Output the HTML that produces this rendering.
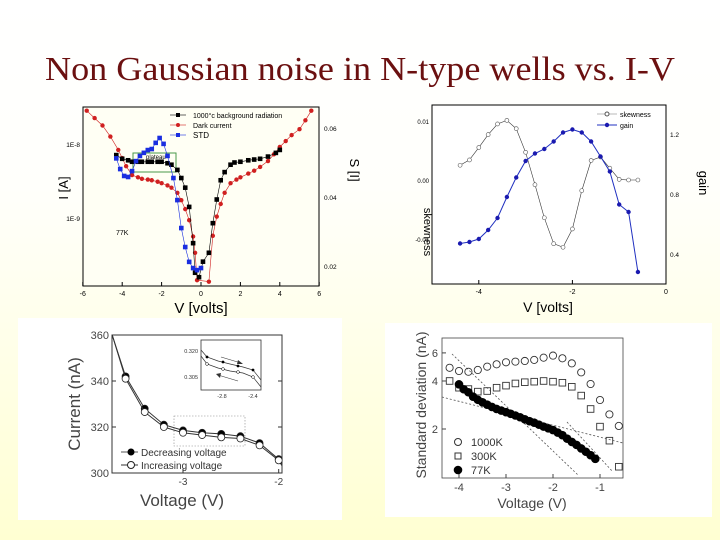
<!DOCTYPE html>
<html><head><meta charset="utf-8"><style>
html,body{margin:0;padding:0;width:720px;height:540px;overflow:hidden}
body{background:linear-gradient(#ffffff 0%,#fffffb 35%,#ffffd2 100%);font-family:"Liberation Sans",sans-serif}
svg{position:absolute;left:0;top:0}
</style></head><body>
<svg id="s" width="720" height="540" viewBox="0 0 720 540">
<text x="360" y="80" text-anchor="middle" font-family="Liberation Serif,serif" font-size="34" fill="#6b1010" textLength="630" lengthAdjust="spacingAndGlyphs">Non Gaussian noise in N-type wells vs. I-V</text>
<g id="c1"></g>
<g id="c2"></g>
<g id="c3"></g>
<g id="c4"></g>
</svg>
<script>
// ---- Chart 1 data ----
const c1RedV=[-5.8,-5.4,-5.0,-4.6,-4.2,-4.0,-3.8,-3.5,-3.2,-3.0,-2.7,-2.5,-2.2,-2.0,-1.7,-1.5,-1.2,-1.0,-0.8,-0.6,-0.4,-0.3,-0.2,0.4,0.6,0.8,1.0,1.2,1.5,1.8,2.0,2.4,2.7,3.0,3.4,3.7,4.0,4.3,4.6,5.0,5.3,5.6];
const c1RedLog=[-7.55,-7.65,-7.75,-7.90,-8.08,-8.19,-8.30,-8.42,-8.45,-8.47,-8.48,-8.49,-8.51,-8.53,-8.56,-8.59,-8.66,-8.76,-8.88,-9.03,-9.25,-9.47,-9.84,-9.86,-9.24,-8.98,-8.81,-8.66,-8.53,-8.48,-8.45,-8.40,-8.36,-8.31,-8.23,-8.14,-8.04,-7.96,-7.88,-7.80,-7.68,-7.55];
const c1BlkV=[-4.3,-4.0,-3.7,-3.5,-3.2,-3.0,-2.7,-2.5,-2.2,-2.0,-1.7,-1.5,-1.2,-1.0,-0.8,-0.6,-0.4,-0.3,-0.1,0.1,0.4,0.6,0.8,1.0,1.2,1.5,1.7,2.0,2.4,2.7,3.0,3.4,3.8,4.0];
const c1BlkLog=[-8.15,-8.20,-8.22,-8.24,-8.24,-8.24,-8.24,-8.24,-8.24,-8.24,-8.26,-8.28,-8.35,-8.46,-8.59,-8.85,-9.34,-9.74,-9.80,-9.59,-9.47,-9.07,-8.75,-8.49,-8.38,-8.28,-8.25,-8.24,-8.22,-8.21,-8.20,-8.17,-8.12,-8.08];
const c1StdV=[-4.3,-4.1,-3.9,-3.7,-3.5,-3.3,-3.1,-2.9,-2.7,-2.5,-2.3,-2.1,-1.9,-1.7,-1.4,-1.2,-1.0,-0.8,-0.6,-0.4,-0.2,0];
const c1Std=[0.0512,0.0481,0.0461,0.0458,0.0475,0.0504,0.0519,0.0528,0.0536,0.0539,0.0557,0.0571,0.0554,0.0519,0.0455,0.0391,0.0310,0.0255,0.0212,0.0194,0.0188,0.0194];
const c1XTicks=[-6,-4,-2,0,2,4,6];
const c1RTicks=[0.06,0.04,0.02];
// ---- Chart 2 data ----
const c2V=[-4.4,-4.2,-4.0,-3.8,-3.6,-3.4,-3.2,-3.0,-2.8,-2.6,-2.4,-2.2,-2.0,-1.8,-1.6,-1.4,-1.2,-1.0,-0.8,-0.6];
const c2Skew=[0.0025,0.0034,0.0055,0.0077,0.0095,0.0101,0.0087,0.0047,-0.0008,-0.0064,-0.0108,-0.0114,-0.0083,-0.0018,0.0033,0.0039,0.0020,0.0001,0.0000,0.0000];
const c2Gain=[0.47,0.48,0.50,0.56,0.64,0.78,0.91,1.02,1.07,1.10,1.15,1.21,1.23,1.21,1.15,1.05,0.95,0.73,0.68,0.28];
const c2XTicks=[-4,-2,0];
const c2LTicks=[0.01,0.00,-0.01];
const c2RTicks=[1.2,0.8,0.4];
// ---- Chart 3 data ----
const c3V=[-3.6,-3.4,-3.2,-3.0,-2.8,-2.6,-2.4,-2.2,-2.0];
const c3Dec=[342,328,321,318.5,317.5,317,316,313,306];
const c3Inc=[341,326.5,320,317.5,316.5,315.5,315,312,305.5];
const c3YTicks=[360,340,320,300];
const c3XTicks=[-3,-2];
// ---- Chart 4 data ----
const c4V=[-4.2,-4.0,-3.8,-3.6,-3.4,-3.2,-3.0,-2.8,-2.6,-2.4,-2.2,-2.0,-1.8,-1.6,-1.4,-1.2,-1.0,-0.8,-0.6];
const c4K1000=[4.84,4.62,4.57,4.69,4.92,5.09,5.24,5.29,5.34,5.42,5.60,5.77,5.55,5.16,4.53,3.83,3.04,2.47,2.09];
const c4K300=[4.0,3.63,3.56,3.43,3.46,3.63,3.74,3.86,3.93,3.96,4.0,3.96,3.90,3.68,3.24,2.67,2.07,1.69,1.16];
const c4V77=[-4.0,-3.9,-3.8,-3.7,-3.6,-3.5,-3.4,-3.3,-3.2,-3.1,-3.0,-2.9,-2.8,-2.7,-2.6,-2.5,-2.4,-2.3,-2.2,-2.1,-2.0,-1.9,-1.8,-1.7,-1.6,-1.5,-1.4,-1.3,-1.2,-1.1];
const c4K77=[3.81,3.55,3.40,3.19,3.05,2.94,2.84,2.75,2.67,2.61,2.55,2.49,2.43,2.37,2.30,2.24,2.19,2.13,2.07,2.02,1.97,1.90,1.83,1.74,1.66,1.59,1.51,1.44,1.37,1.30];
const c4YTicks=[6,4,2];
const c4XTicks=[-4,-3,-2,-1];

const NS='http://www.w3.org/2000/svg';
function mk(p,tag,at,txt){const e=document.createElementNS(NS,tag);for(const k in at)e.setAttribute(k,at[k]);if(txt!==undefined)e.textContent=txt;p.appendChild(e);return e;}
function pl(xs,ys,fx,fy){return xs.map((v,i)=>fx(v).toFixed(1)+','+fy(ys[i]).toFixed(1)).join(' ');}

// ===== Chart 1 =====
(function(){
const g=document.getElementById('c1');
const X=v=>201+v*19.7, Y=l=>144-(l+8)*74, YR=s=>197-(s-0.04)/0.02*69;
let e=mk(g,'rect',{x:83,y:107,width:236,height:179,fill:'#fffff4',stroke:'#000','stroke-width':1});

c1XTicks.forEach(t=>{mk(g,'line',{x1:X(t),x2:X(t),y1:286,y2:282,stroke:'#000'});
 e=mk(g,'text',{x:X(t),y:296,'font-size':7,'text-anchor':'middle'},t);});
c1RTicks.forEach(t=>{e=mk(g,'text',{x:324,y:YR(t)+3,'font-size':6.5},t.toFixed(2));});
[['1E-8',-8],['1E-9',-9]].forEach(a=>{e=mk(g,'text',{x:80,y:Y(a[1])+3,'font-size':6.5,'text-anchor':'end'},a[0]);});
e=mk(g,'rect',{x:133,y:153,width:43,height:19,fill:'none',stroke:'#4a9a4a','stroke-width':1});
e=mk(g,'text',{x:146,y:159,'font-size':6},'plateau');
e=mk(g,'text',{x:116,y:235,'font-size':7},'77K');
const ser=[[c1RedV,c1RedLog,Y,'#d02020','c'],[c1BlkV,c1BlkLog,Y,'#000','s'],[c1StdV,c1Std,YR,'#1a2ee0','s']];
ser.forEach((s,k)=>{
 e=mk(g,'polyline',{points:pl(s[0],s[1],X,s[2]),fill:'none',stroke:s[3],'stroke-width':0.6});
 
 s[0].forEach((v,i)=>{const x=X(v),y=s[2](s[1][i]);
  if(s[4]=='c')e=mk(g,'circle',{cx:x,cy:y,r:2.2,fill:s[3]});else e=mk(g,'rect',{x:x-2.3,y:y-2.3,width:4.6,height:4.6,fill:s[3]});
  });
});
const leg=[['1000°c background radiation','#000','s'],['Dark current','#d02020','c'],['STD','#1a2ee0','s']];
leg.forEach((l,i)=>{const y=115+i*10;mk(g,'line',{x1:170,x2:186,y1:y,y2:y,stroke:l[1],'stroke-width':0.6});
 if(l[2]=='c')mk(g,'circle',{cx:178,cy:y,r:2,fill:l[1]});else mk(g,'rect',{x:176,y:y-2,width:4,height:4,fill:l[1]});
 e=mk(g,'text',{x:193,y:y+3,'font-size':i==2?8:7},l[0]);});
e=mk(g,'text',{x:201,y:313,'font-size':15,'text-anchor':'middle'},'V [volts]');
e=mk(g,'text',{x:0,y:0,'font-size':13,transform:'translate(68,188) rotate(-90)','text-anchor':'middle'},'I [A]');
e=mk(g,'text',{x:0,y:0,'font-size':13,transform:'translate(350,170) rotate(90)','text-anchor':'middle'},'S [I]');
})();

// ===== Chart 2 =====
(function(){
const g=document.getElementById('c2');
const X=v=>666+v*46.8, YL=s=>180-s/0.01*59, YR=v=>194-(v-0.8)/0.4*60;
let e=mk(g,'rect',{x:432,y:105,width:234,height:179,fill:'#ffffff',stroke:'#000','stroke-width':1});

c2XTicks.forEach(t=>{mk(g,'line',{x1:X(t),x2:X(t),y1:284,y2:280,stroke:'#000'});
 e=mk(g,'text',{x:X(t),y:294,'font-size':7,'text-anchor':'middle'},t);});
c2LTicks.forEach(t=>{e=mk(g,'text',{x:429,y:YL(t)+3,'font-size':6,'text-anchor':'end'},t.toFixed(2));});
c2RTicks.forEach(t=>{e=mk(g,'text',{x:670,y:YR(t)+3,'font-size':6.5},t.toFixed(1));});
e=mk(g,'polyline',{points:pl(c2V,c2Skew,X,YL),fill:'none',stroke:'#333','stroke-width':0.6});
c2V.forEach((v,i)=>{e=mk(g,'circle',{cx:X(v),cy:YL(c2Skew[i]),r:2,fill:'#fff',stroke:'#555','stroke-width':0.6});});
e=mk(g,'polyline',{points:pl(c2V,c2Gain,X,YR),fill:'none',stroke:'#2030c0','stroke-width':1});
c2V.forEach((v,i)=>{e=mk(g,'circle',{cx:X(v),cy:YR(c2Gain[i]),r:2.2,fill:'#1a1ab0'});});
mk(g,'line',{x1:597,x2:617,y1:114,y2:114,stroke:'#777','stroke-width':0.6});mk(g,'circle',{cx:607,cy:114,r:2,fill:'#fff',stroke:'#555'});
e=mk(g,'text',{x:620,y:117,'font-size':7},'skewness');
mk(g,'line',{x1:597,x2:617,y1:125,y2:125,stroke:'#2030c0'});mk(g,'circle',{cx:607,cy:125,r:2.2,fill:'#1a1ab0'});
e=mk(g,'text',{x:620,y:128,'font-size':7},'gain');
e=mk(g,'text',{x:548,y:312,'font-size':14,'text-anchor':'middle'},'V [volts]');
e=mk(g,'text',{x:0,y:0,'font-size':11,transform:'translate(424,232) rotate(90)','text-anchor':'middle'},'skewness');
e=mk(g,'text',{x:0,y:0,'font-size':13,transform:'translate(699,183) rotate(90)','text-anchor':'middle'},'gain');
})();

// ===== Chart 3 =====
(function(){
const g=document.getElementById('c3');
let e=mk(g,'rect',{x:18,y:318,width:324,height:202,fill:'#fff'});
const X=v=>183+(v+3)*95.7, Y=c=>335+(360-c)*2.3;
e=mk(g,'rect',{x:112,y:335,width:170,height:138,fill:'none',stroke:'#333','stroke-width':1});
c3YTicks.forEach(t=>{mk(g,'line',{x1:112,x2:116,y1:Y(t),y2:Y(t),stroke:'#333'});mk(g,'line',{x1:282,x2:278,y1:Y(t),y2:Y(t),stroke:'#333'});
 e=mk(g,'text',{x:109,y:Y(t)+4,'font-size':11,'text-anchor':'end',fill:'#444'},t);});
c3XTicks.forEach(t=>{mk(g,'line',{x1:X(t),x2:X(t),y1:473,y2:469,stroke:'#333'});
 e=mk(g,'text',{x:X(t),y:485,'font-size':10,'text-anchor':'middle',fill:'#444'},t);});
e=mk(g,'rect',{x:174,y:416,width:71,height:30,fill:'none',stroke:'#888','stroke-width':0.6,'stroke-dasharray':'1.5,1.5'});
const clip=mk(g,'clipPath',{id:'cp3'});mk(clip,'rect',{x:112,y:335,width:170,height:138});
[[c3Dec,'#000'],[c3Inc,'#fff']].forEach((s,k)=>{
 const xs=[-3.74].concat(c3V,[-1.92]), ys=[360].concat(s[0],[300]);
 e=mk(g,'polyline',{points:pl(xs,ys,X,Y),fill:'none',stroke:'#333','stroke-width':1,'clip-path':'url(#cp3)'});
 c3V.forEach((v,i)=>{e=mk(g,'circle',{cx:X(v),cy:Y(s[0][i]),r:3.5,fill:s[1],stroke:'#222','stroke-width':0.8});});
});
e=mk(g,'rect',{x:201,y:340,width:60,height:50,fill:'#fff',stroke:'#333','stroke-width':0.8});
mk(g,'polyline',{points:'201,350 207,357 218,361 230,364 243,367 253,370 261,380',fill:'none',stroke:'#333','stroke-width':0.7});
mk(g,'polyline',{points:'201,356 207,364 218,368 230,371 243,373 253,377 261,387',fill:'none',stroke:'#333','stroke-width':0.7});
[[207,357],[223,362],[238,366],[253,370]].forEach(p=>mk(g,'circle',{cx:p[0],cy:p[1],r:1.4,fill:'#000'}));
[[207,364],[223,369],[238,372],[253,377]].forEach(p=>mk(g,'circle',{cx:p[0],cy:p[1],r:1.4,fill:'#fff',stroke:'#000','stroke-width':0.5}));
mk(g,'line',{x1:221,x2:241,y1:357,y2:363,stroke:'#333','stroke-width':0.6});mk(g,'polygon',{points:'243,364 238,360 237,364',fill:'#333'});
mk(g,'line',{x1:218,x2:238,y1:375,y2:381,stroke:'#333','stroke-width':0.6});mk(g,'polygon',{points:'216,374 221,373 220,378',fill:'#333'});
e=mk(g,'text',{x:198,y:353,'font-size':5.5,'text-anchor':'end',fill:'#333'},'0.320');
e=mk(g,'text',{x:198,y:379,'font-size':5.5,'text-anchor':'end',fill:'#333'},'0.305');
e=mk(g,'text',{x:222,y:398,'font-size':5.5,'text-anchor':'middle',fill:'#333'},'-2.8');
e=mk(g,'text',{x:253,y:398,'font-size':5.5,'text-anchor':'middle',fill:'#333'},'-2.4');
mk(g,'line',{x1:121,x2:138,y1:452,y2:452,stroke:'#555'});mk(g,'circle',{cx:131,cy:452,r:3.5,fill:'#000'});
e=mk(g,'text',{x:141,y:456,'font-size':10,fill:'#333'},'Decreasing voltage');
mk(g,'line',{x1:121,x2:138,y1:465,y2:465,stroke:'#333'});mk(g,'circle',{cx:131,cy:465,r:3.5,fill:'#fff',stroke:'#222'});
e=mk(g,'text',{x:141,y:469,'font-size':10,fill:'#333'},'Increasing voltage');
e=mk(g,'text',{x:182,y:506,'font-size':17,'text-anchor':'middle',fill:'#444'},'Voltage (V)');
e=mk(g,'text',{x:0,y:0,'font-size':17,fill:'#444',transform:'translate(80,404) rotate(-90)','text-anchor':'middle'},'Current (nA)');
})();

// ===== Chart 4 =====
(function(){
const g=document.getElementById('c4');
let e=mk(g,'rect',{x:385,y:323,width:327,height:194,fill:'#fff'});
const X=v=>600+(v+1)*47, Y=s=>429-(Math.log10(s)-Math.log10(2))*159.5;
e=mk(g,'rect',{x:442,y:338,width:181,height:140,fill:'none',stroke:'#444','stroke-width':0.8});

const clip=mk(g,'clipPath',{id:'cp4'});mk(clip,'rect',{x:442,y:338,width:181,height:140});
c4YTicks.forEach(t=>{mk(g,'line',{x1:442,x2:446,y1:Y(t),y2:Y(t),stroke:'#444'});
 e=mk(g,'text',{x:438,y:Y(t)+4,'font-size':11,'text-anchor':'end',fill:'#444'},t);});
c4XTicks.forEach(t=>{mk(g,'line',{x1:X(t),x2:X(t),y1:478,y2:474,stroke:'#444'});
 e=mk(g,'text',{x:X(t),y:491,'font-size':11,'text-anchor':'middle',fill:'#444'},t);});
[[452,354,578,475],[442,397,623,443],[567,422,613,472]].forEach(l=>{e=mk(g,'line',{x1:l[0],y1:l[1],x2:l[2],y2:l[3],stroke:'#555','stroke-width':0.8,'stroke-dasharray':'2,2','clip-path':'url(#cp4)'});});
c4V.forEach((v,i)=>{e=mk(g,'circle',{cx:X(v),cy:Y(c4K1000[i]),r:3.6,fill:'none',stroke:'#333','stroke-width':0.9});});
c4V.forEach((v,i)=>{e=mk(g,'rect',{x:X(v)-3.3,y:Y(c4K300[i])-3.3,width:6.6,height:6.6,fill:'none',stroke:'#333','stroke-width':0.9});});
c4V77.forEach((v,i)=>{e=mk(g,'circle',{cx:X(v),cy:Y(c4K77[i]),r:4.3,fill:'#000'});});
mk(g,'circle',{cx:458,cy:442,r:3.5,fill:'none',stroke:'#333'});
e=mk(g,'text',{x:471,y:446,'font-size':11,fill:'#333'},'1000K');
mk(g,'rect',{x:455,y:453,width:6,height:6,fill:'none',stroke:'#333'});
e=mk(g,'text',{x:471,y:460,'font-size':11,fill:'#333'},'300K');
mk(g,'circle',{cx:458,cy:470,r:4.3,fill:'#000'});
e=mk(g,'text',{x:471,y:474,'font-size':11,fill:'#333'},'77K');
e=mk(g,'text',{x:532,y:508,'font-size':14,'text-anchor':'middle',fill:'#444'},'Voltage (V)');
e=mk(g,'text',{x:0,y:0,'font-size':14,fill:'#444',transform:'translate(426,405) rotate(-90)','text-anchor':'middle'},'Standard deviation (nA)');
})();
</script>
</body></html>
